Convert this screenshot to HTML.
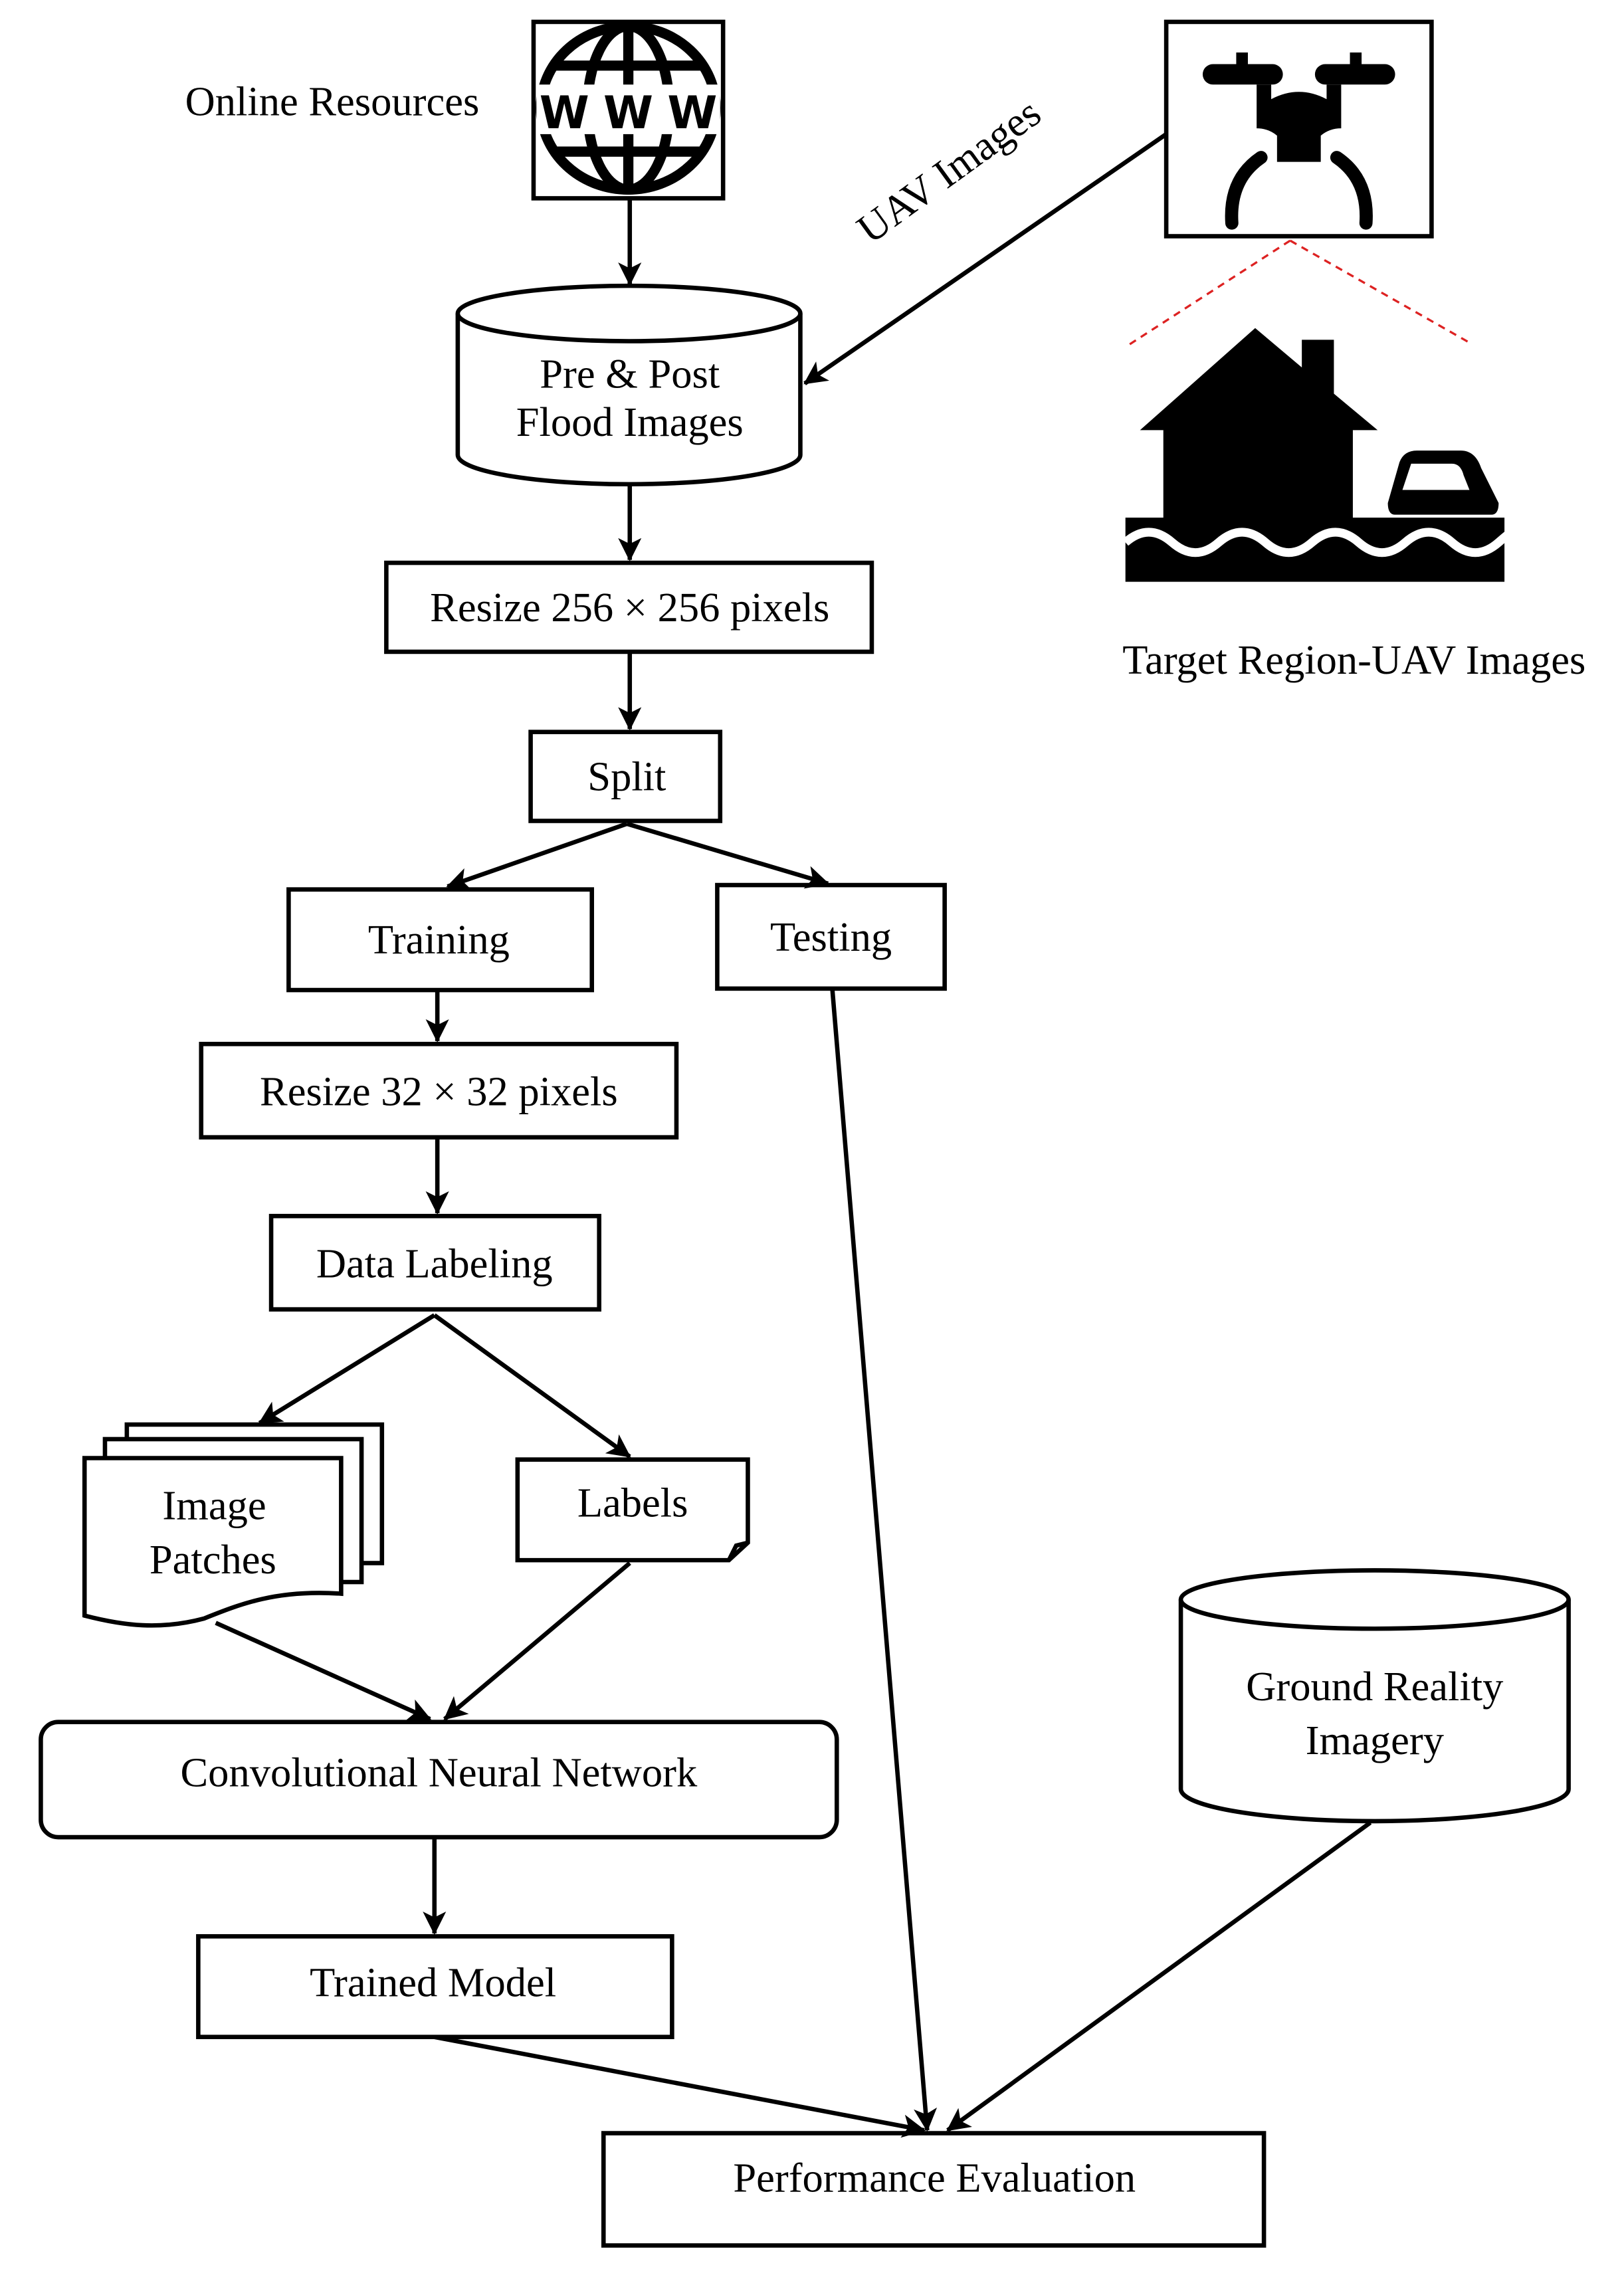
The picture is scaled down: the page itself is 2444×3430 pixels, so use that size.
<!DOCTYPE html>
<html><head><meta charset="utf-8"><style>html,body{margin:0;padding:0;background:#fff}svg{display:block}</style></head><body>
<svg width="2444" height="3430" viewBox="0 0 1114 1563" preserveAspectRatio="none" xmlns="http://www.w3.org/2000/svg" font-family="Liberation Serif, serif" font-size="28.5" fill="#000">
<defs>
<marker id="b" markerWidth="16" markerHeight="16" refX="15" refY="8" orient="auto" markerUnits="userSpaceOnUse" viewBox="0 0 16 16"><path d="M0,0 L16,8 L0,16 L4,8 Z"/></marker></defs>
<g stroke="#000" stroke-width="3" fill="none">
<rect x="366" y="15" width="130" height="121"/>
<rect x="800" y="15" width="182" height="147"/>
<path d="M314,215 V312 A117,20 0 0 0 549,312 V215"/>
<ellipse cx="431.5" cy="215" rx="117.5" ry="19"/>
<rect x="265" y="386" width="333" height="61"/>
<rect x="364" y="502" width="130" height="61"/>
<rect x="198" y="610" width="208" height="69"/>
<rect x="492" y="607" width="156" height="71"/>
<rect x="138" y="716" width="326" height="64"/>
<rect x="186" y="834" width="225" height="64"/>
<rect x="87" y="977" width="175" height="95" fill="#fff"/>
<rect x="72" y="987" width="176" height="98" fill="#fff"/>
<path d="M58,1000 H234 V1093 C190,1090 165,1100 140,1110 C110,1118 85,1115 58,1108 Z" fill="#fff"/>
<path d="M355,1001 H513 V1058 L500,1070 H355 Z"/>
<path d="M500,1070 L505,1060 L513,1058" />
<rect x="28" y="1181" width="546" height="79" rx="12"/>
<rect x="136" y="1328" width="325" height="69"/>
<rect x="414" y="1463" width="453" height="77"/>
<path d="M810,1097 V1227 A133,22 0 0 0 1076,1227 V1097"/>
<ellipse cx="943" cy="1097" rx="133" ry="20"/>
</g>
<g stroke="#000" stroke-width="3" fill="none" marker-end="url(#b)">
<line x1="432" y1="136" x2="432" y2="195"/>
<line x1="800" y1="92" x2="552" y2="263"/>
<line x1="432" y1="333" x2="432" y2="384"/>
<line x1="432" y1="447" x2="432" y2="500"/>
<line x1="430" y1="565" x2="307" y2="608"/>
<line x1="430" y1="565" x2="568" y2="606"/>
<line x1="300" y1="679" x2="300" y2="714"/>
<line x1="300" y1="780" x2="300" y2="832"/>
<line x1="298" y1="902" x2="178" y2="976"/>
<line x1="298" y1="902" x2="432" y2="999"/>
<line x1="148" y1="1113" x2="295" y2="1179"/>
<line x1="432" y1="1072" x2="305" y2="1179"/>
<line x1="298" y1="1260" x2="298" y2="1326"/>
<line x1="298" y1="1397" x2="634" y2="1461"/>
<line x1="571" y1="679" x2="636" y2="1461"/>
<line x1="940" y1="1250" x2="650" y2="1461"/>
</g>
<g stroke="#d22" stroke-width="1.5" stroke-dasharray="5,4"><line x1="885" y1="165" x2="772" y2="238"/><line x1="885" y1="165" x2="1008" y2="235"/></g>
<g stroke="#000" fill="none" stroke-width="7">
<ellipse cx="431" cy="74" rx="60" ry="56"/>
<ellipse cx="431" cy="74" rx="28" ry="56"/>
<line x1="431" y1="18" x2="431" y2="130"/>
<line x1="380" y1="45" x2="482" y2="45"/><line x1="380" y1="104" x2="482" y2="104"/>
</g>
<rect x="368" y="58" width="126" height="34" fill="#fff"/>
<text x="431" y="88" font-family="DejaVu Sans, sans-serif" font-weight="bold" font-size="31" text-anchor="middle" textLength="122">WWW</text>
<g fill="#000">
<rect x="825" y="44" width="55" height="14" rx="7"/><rect x="902" y="44" width="55" height="14" rx="7"/>
<rect x="848" y="36" width="8" height="10"/><rect x="926" y="36" width="8" height="10"/>
<path d="M862,58 h10 v10 q19,-10 38,0 v-10 h10 v30 q-8,0 -14,5 v18 h-30 v-18 q-6,-5 -14,-5 z"/>
</g>
<g stroke="#000" stroke-width="9" fill="none" stroke-linecap="round"><path d="M865,108 q-22,15 -20,45"/><path d="M917,108 q22,15 20,45"/></g>
<g fill="#000">
<polygon points="861,225 782,295 798,295 798,368 928,368 928,295 945,295 915,270 915,233 893,233 893,252"/>
<path d="M952,345 l8,-28 q3,-8 12,-8 h30 q10,0 14,12 l12,24 q0,8 -5,8 h-66 q-5,0 -5,-8 z"/>
<rect x="772" y="355" width="260" height="44"/>
</g>
<path d="M772,372 q16,-14 32,0 q16,14 32,0 q16,-14 32,0 q16,14 32,0 q16,-14 32,0 q16,14 32,0 q16,-14 32,0 q16,14 32,0 q16,-14 4,0" stroke="#fff" stroke-width="6" fill="none"/>
<path d="M968,318 h28 q6,0 8,8 l4,10 h-46 z" fill="#fff"/>
<text x="127" y="79">Online Resources</text>
<text transform="translate(597,168) rotate(-36)">UAV Images</text>
<text x="770" y="462">Target Region-UAV Images</text>
<g text-anchor="middle">
<text x="432" y="266">Pre &amp; Post</text>
<text x="432" y="299">Flood Images</text>
<text x="432" y="426">Resize 256 × 256 pixels</text>
<text x="430" y="542">Split</text>
<text x="301" y="654">Training</text>
<text x="570" y="652">Testing</text>
<text x="301" y="758">Resize 32 × 32 pixels</text>
<text x="298" y="876">Data Labeling</text>
<text x="147" y="1042">Image</text>
<text x="146" y="1079">Patches</text>
<text x="434" y="1040">Labels</text>
<text x="301" y="1225">Convolutional Neural Network</text>
<text x="297" y="1369">Trained Model</text>
<text x="641" y="1503">Performance Evaluation</text>
<text x="943" y="1166">Ground Reality</text>
<text x="943" y="1203">Imagery</text>
</g>
</svg>
</body></html>
